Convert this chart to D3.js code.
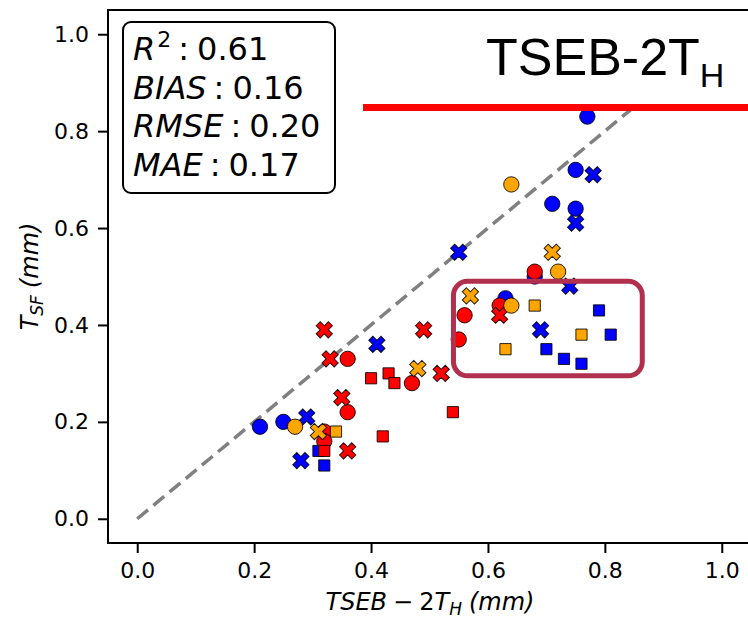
<!DOCTYPE html>
<html>
  <head>
    <meta charset="UTF-8">
    <title>TSEB-2TH vs TSF scatter</title>
    <script src="https://d3js.org/d3.v7.min.js"></script>
    <style>
      body { margin: 0; background: #fff; }
      svg.chart { font-family: "DejaVu Sans", sans-serif; }
      .tick text { font-size: 22px; fill: #000; }
      .tick line { stroke: #000; stroke-width: 2; }
    </style>
  </head>
  <body>
    <div id="chart"></div>
    <script>
      // points, [TSEB-2TH, TSF] in mm
      const blueCircles = [[0.21,0.19],[0.25,0.20],[0.63,0.455],[0.68,0.50],[0.71,0.65],[0.75,0.72],[0.75,0.64],[0.77,0.83]];
      const blueCrosses = [[0.28,0.12],[0.29,0.21],[0.41,0.36],[0.55,0.55],[0.69,0.39],[0.74,0.48],[0.75,0.61],[0.78,0.71]];
      const blueSquares = [[0.31,0.14],[0.32,0.11],[0.70,0.35],[0.73,0.33],[0.76,0.32],[0.79,0.43],[0.81,0.38]];
      const redCircles = [[0.32,0.18],[0.32,0.16],[0.36,0.33],[0.36,0.22],[0.47,0.28],[0.55,0.37],[0.56,0.42],[0.62,0.44],[0.68,0.51]];
      const redCrosses = [[0.32,0.39],[0.33,0.33],[0.35,0.25],[0.36,0.14],[0.49,0.39],[0.52,0.30],[0.62,0.42]];
      const redSquares = [[0.32,0.14],[0.40,0.29],[0.42,0.17],[0.43,0.30],[0.44,0.28],[0.54,0.22]];
      const orangeCircles = [[0.27,0.19],[0.64,0.44],[0.64,0.69],[0.72,0.51]];
      const orangeCrosses = [[0.31,0.18],[0.48,0.31],[0.57,0.46],[0.71,0.55]];
      const orangeSquares = [[0.34,0.18],[0.63,0.35],[0.68,0.44],[0.76,0.38]];

      const tickValues = [0.0, 0.2, 0.4, 0.6, 0.8, 1.0];
      const statNames = ["R", "BIAS", "RMSE", "MAE"];
      const statValues = ["0.61", "0.16", "0.20", "0.17"];
      // highlighted region, in data units
      const boxX = [0.541, 0.864];
      const boxY = [0.295, 0.49];

      const width = 748;
      const height = 618;
      const margin = { top: 10, right: -3, bottom: 75, left: 108 };

      const svg = d3.select("#chart")
        .append("svg")
        .attr("width", width)
        .attr("height", height)
        .attr("class", "chart");

      const x = d3.scaleLinear().domain([-0.05, 1.05]).range([margin.left, width - margin.right]);
      const y = d3.scaleLinear().domain([-0.05, 1.05]).range([height - margin.bottom, margin.top]);

      svg.append("clipPath").attr("id", "plot-clip")
        .append("rect")
        .attr("x", x.range()[0]).attr("y", y.range()[1])
        .attr("width", x.range()[1] - x.range()[0])
        .attr("height", y.range()[0] - y.range()[1]);

      const plot = svg.append("g").attr("clip-path", "url(#plot-clip)");

      // 1:1 line
      plot.append("line")
        .attr("x1", x(0)).attr("y1", y(0))
        .attr("x2", x(1)).attr("y2", y(1))
        .attr("stroke", "#808080")
        .attr("stroke-width", 3.5)
        .attr("stroke-dasharray", "14,7");

      const symbols = {
        circle: d3.symbol().type(d3.symbolCircle).size(185),
        square: d3.symbol().type(d3.symbolSquare).size(125),
        cross: d3.symbol().type(d3.symbolCross).size(165)
      };

      const groups = [
        { data: blueCircles, color: "#0000ff", shape: "circle" },
        { data: blueCrosses, color: "#0000ff", shape: "cross" },
        { data: blueSquares, color: "#0000ff", shape: "square" },
        { data: redCircles, color: "#ff0000", shape: "circle" },
        { data: redCrosses, color: "#ff0000", shape: "cross" },
        { data: redSquares, color: "#ff0000", shape: "square" },
        { data: orangeCircles, color: "#ffa500", shape: "circle" },
        { data: orangeCrosses, color: "#ffa500", shape: "cross" },
        { data: orangeSquares, color: "#ffa500", shape: "square" }
      ];

      groups.forEach(g => {
        plot.append("g").selectAll("path")
          .data(g.data)
          .enter()
          .append("path")
          .attr("d", symbols[g.shape])
          .attr("transform", d => `translate(${x(d[0])},${y(d[1])})` + (g.shape === "cross" ? " rotate(45)" : ""))
          .attr("fill", g.color)
          .attr("stroke", "#000")
          .attr("stroke-opacity", 0.85)
          .attr("stroke-width", 1);
      });

      // highlight box
      plot.append("rect")
        .attr("x", x(boxX[0])).attr("y", y(boxY[1]))
        .attr("width", x(boxX[1]) - x(boxX[0]))
        .attr("height", y(boxY[0]) - y(boxY[1]))
        .attr("rx", 14)
        .attr("fill", "none")
        .attr("stroke", "#b0304e")
        .attr("stroke-width", 5);

      // axes
      const xAxis = svg.append("g")
        .attr("transform", `translate(0, ${y.range()[0]})`)
        .call(d3.axisBottom(x).tickValues(tickValues).tickFormat(d3.format(".1f")).tickSize(10).tickPadding(9));
      xAxis.select(".domain").remove();

      const yAxis = svg.append("g")
        .attr("transform", `translate(${x.range()[0]}, 0)`)
        .call(d3.axisLeft(y).tickValues(tickValues).tickFormat(d3.format(".1f")).tickSize(10).tickPadding(9));
      yAxis.select(".domain").remove();
      svg.selectAll(".tick text").attr("font-family", "DejaVu Sans");

      // spines
      const spines = svg.append("g").attr("stroke", "#000").attr("stroke-width", 2);
      spines.append("line").attr("x1", x.range()[0]).attr("x2", x.range()[0]).attr("y1", y.range()[0] + 1).attr("y2", y.range()[1] - 1);
      spines.append("line").attr("x1", x.range()[0]).attr("x2", x.range()[1]).attr("y1", y.range()[0]).attr("y2", y.range()[0]);
      spines.append("line").attr("x1", x.range()[0]).attr("x2", x.range()[1]).attr("y1", y.range()[1]).attr("y2", y.range()[1]);
      spines.append("line").attr("x1", x.range()[1]).attr("x2", x.range()[1]).attr("y1", y.range()[0]).attr("y2", y.range()[1]);

      // axis labels
      const xLabel = svg.append("text")
        .attr("x", 430).attr("y", 610)
        .attr("text-anchor", "middle")
        .style("font-size", "24px");
      xLabel.append("tspan").attr("font-style", "italic").text("TSEB");
      xLabel.append("tspan").attr("dx", 6).text("\u2212");
      xLabel.append("tspan").attr("dx", 6).text("2");
      xLabel.append("tspan").attr("font-style", "italic").text("T");
      xLabel.append("tspan").attr("font-style", "italic").attr("dy", 5).style("font-size", "17px").text("H");
      xLabel.append("tspan").attr("dy", -5).attr("dx", 7).attr("font-style", "italic").text("(mm)");

      const yLabel = svg.append("text")
        .attr("transform", `translate(38, ${(y.range()[0] + y.range()[1]) / 2}) rotate(-90)`)
        .attr("text-anchor", "middle")
        .style("font-size", "24px");
      yLabel.append("tspan").attr("font-style", "italic").text("T");
      yLabel.append("tspan").attr("font-style", "italic").attr("dy", 5).style("font-size", "17px").text("SF");
      yLabel.append("tspan").attr("dy", -5).attr("dx", 7).attr("font-style", "italic").text("(mm)");

      // stats box
      svg.append("rect")
        .attr("x", 123).attr("y", 22)
        .attr("width", 212).attr("height", 171)
        .attr("rx", 8)
        .attr("fill", "#fff")
        .attr("stroke", "#000")
        .attr("stroke-width", 2);

      statNames.forEach((name, i) => {
        const t = svg.append("text")
          .attr("x", 133).attr("y", 60 + i * 38.5)
          .style("font-size", "32px");
        t.append("tspan").attr("font-style", "italic").text(name);
        if (name === "R") {
          t.append("tspan").attr("dy", -13).attr("dx", 2).style("font-size", "22px").text("2");
          t.append("tspan").attr("dy", 13).attr("dx", 7).text(":");
        } else {
          t.append("tspan").attr("dx", 7).text(":");
        }
        t.append("tspan").attr("dx", 8).text(statValues[i]);
      });

      // title panel pasted over the top right
      svg.append("rect")
        .attr("x", 363).attr("y", 12)
        .attr("width", width - 363).attr("height", 93)
        .attr("fill", "#fff");
      svg.append("rect")
        .attr("x", 363).attr("y", 104)
        .attr("width", width - 363).attr("height", 7)
        .attr("fill", "#ff0000");

      const title = svg.append("text")
        .attr("x", 486).attr("y", 75)
        .attr("font-family", "Liberation Sans, Arial, sans-serif")
        .style("font-size", "52px");
      title.append("tspan").text("TSEB-2T");
      title.append("tspan").attr("dy", 12).style("font-size", "34px").text("H");
    </script>
  </body>
</html>
